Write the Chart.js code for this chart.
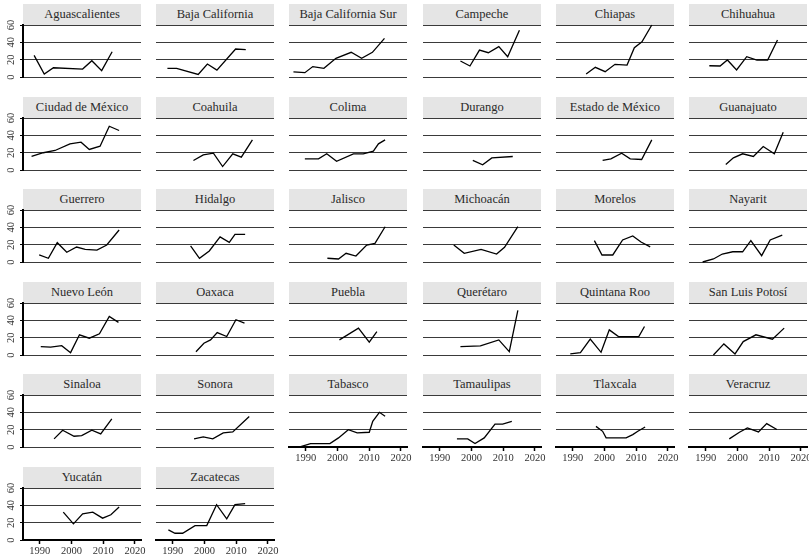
<!DOCTYPE html>
<html><head><meta charset="utf-8">
<script src="https://cdn.jsdelivr.net/npm/chart.js@4/dist/chart.umd.min.js"></script>
<style>
html,body{margin:0;padding:0;background:#fff;}
#wrap{position:relative;width:809px;height:558px;overflow:hidden;background:#fff;}
.strip{position:absolute;height:21px;line-height:21px;background:#e5e5e5;text-align:center;font-family:"Liberation Serif","DejaVu Serif","Times New Roman",serif;font-size:12.5px;color:#2a2a2a;white-space:nowrap;}
canvas{position:absolute;}
</style></head><body><div id="wrap"></div>
<script>
// ---- data ----
const states = ["Aguascalientes","Baja California","Baja California Sur","Campeche","Chiapas","Chihuahua",
"Ciudad de México","Coahuila","Colima","Durango","Estado de México","Guanajuato",
"Guerrero","Hidalgo","Jalisco","Michoacán","Morelos","Nayarit",
"Nuevo León","Oaxaca","Puebla","Querétaro","Quintana Roo","San Luis Potosí",
"Sinaloa","Sonora","Tabasco","Tamaulipas","Tlaxcala","Veracruz",
"Yucatán","Zacatecas"];

const years = [
 [1988.2,1991.4,1994.3,2003.5,2006.4,2009.5,2012.8],
 [1988.3,1991.2,1998.0,2000.9,2003.9,2009.8,2013.0],
 [1986.1,1989.7,1992.2,1995.7,1999.5,2004.3,2007.6,2011.0,2014.8],
 [1996.5,1999.5,2002.5,2005.3,2008.6,2011.4,2015.1],
 [1994.2,1997.1,2000.2,2003.3,2007.1,2009.4,2011.8,2014.9],
 [1991.1,1994.5,1996.8,1999.7,2002.9,2006.1,2009.5,2012.6],
 [1987.4,1991.1,1994.8,1999.5,2003.0,2005.6,2009.0,2011.9,2015.0],
 [1996.5,1999.6,2002.8,2005.7,2008.9,2011.6,2015.1],
 [1989.7,1994.0,1996.6,1999.7,2005.0,2008.1,2011.3,2012.9,2015.0],
 [2000.4,2003.5,2006.4,2013.0],
 [1999.4,2002.0,2005.4,2008.1,2011.7,2014.9],
 [1996.3,1998.7,2001.6,2005.0,2008.1,2011.6,2014.4],
 [1989.8,1992.7,1995.5,1998.5,2001.6,2004.3,2008.0,2011.1,2015.0],
 [1995.6,1998.4,2001.5,2004.9,2007.8,2009.6,2012.8],
 [1996.8,2000.3,2002.7,2005.8,2009.2,2011.8,2015.0],
 [1994.4,1997.7,2003.0,2007.9,2010.4,2014.6],
 [1996.8,1999.2,2002.6,2005.7,2008.9,2011.5,2014.4],
 [1989.0,1992.4,1995.2,1998.5,2001.6,2004.2,2007.6,2010.3,2014.1],
 [1990.3,1993.4,1996.9,1999.7,2002.5,2005.6,2008.8,2011.9,2014.8],
 [1997.3,1999.8,2001.9,2004.0,2007.0,2009.9,2012.6],
 [2000.6,2006.6,2010.0,2012.4],
 [1996.5,2002.8,2008.6,2011.9,2014.6],
 [1989.2,1992.4,1995.5,1998.9,2001.5,2004.4,2010.8,2012.6],
 [1992.4,1995.7,1999.2,2001.8,2005.8,2011.0,2014.7],
 [1994.5,1997.2,2000.8,2003.2,2006.4,2009.2,2012.7],
 [1996.7,1999.6,2002.6,2005.9,2008.9,2014.1],
 [1988.4,1991.5,1997.6,2000.3,2003.4,2006.2,2010.0,2011.1,2013.2,2015.0],
 [1995.4,1998.8,2001.1,2004.0,2007.4,2009.8,2012.7],
 [1997.3,1999.4,2000.5,2006.8,2008.9,2010.5,2012.8],
 [1997.4,2000.6,2003.1,2006.6,2009.2,2012.4],
 [1997.4,2000.6,2003.5,2006.7,2009.8,2012.4,2015.0],
 [1988.6,1990.7,1993.1,1997.0,2000.7,2003.8,2007.0,2009.6,2012.8]
];

const values = [
 [25,3.5,10.7,9.2,18.8,7.3,29.2],
 [10,10,3,15,8,32.3,31.5],
 [6,5,12,10,21.6,28.5,21.6,28.5,44.6],
 [18.5,12.7,31,28,35,23.4,54],
 [3.5,11.2,6.1,14.6,13.8,33.8,40.7,60],
 [13,12.7,19.6,8.1,23.4,19.6,19.6,42.7],
 [15.6,19.9,22.5,30.2,32.1,23.7,27.5,50.5,45.6],
 [11,17.5,19.4,4,18.7,14.8,34.8],
 [12.9,12.9,18.7,10.1,18.7,18.7,21.7,30.2,34.8],
 [11,6,14,15.6],
 [11,12.9,19.4,12.9,12.1,34.8],
 [6.3,14,18.7,15.6,27.1,18.7,43.6],
 [8.1,4.3,22.3,11.3,17.3,14.6,13.8,19.6,36.9],
 [18.5,4.3,12.7,29,22.7,31.9,31.9],
 [4.3,3.5,10,6.9,19.6,21.5,40.7],
 [19.6,10,14.6,9.2,16.9,40.7],
 [24.6,8.1,8.1,25.4,30,23,17.5],
 [0,3.5,9.2,11.8,11.8,24.6,7.3,25.4,31.1],
 [9.7,9,10.8,2.7,23.3,19.4,24.4,44.5,37.6],
 [3.8,13.6,17.4,25.9,21.3,40.7,36.9],
 [17.4,31,14.8,27.1],
 [9.7,10.5,17.4,3.8,51.5],
 [1.2,2.7,18.3,3.1,29,21.3,21.3,32.9],
 [0,12.8,1.2,15.5,23.3,18.2,31],
 [9.4,19.3,12.4,13.2,19.3,15.1,32.4],
 [9.4,11.7,9.4,16.3,17.4,35.3],
 [0.5,4,4,10.5,20,16.3,17,29.7,40,35.5],
 [9.4,9.4,4,10.5,26.5,26.5,29.5],
 [23.8,18.1,10.5,10.5,14.3,18.1,23.1],
 [9.4,17,22,17.4,27,20.2],
 [32.2,18.6,30.2,32.2,25.2,29.1,38],
 [11.6,7.8,7.8,16.6,16.6,40.7,24.4,40.7,41.9]
];

const xTicks = [1990, 2000, 2010, 2020];
const yTicks = [0, 20, 40, 60];

// ---- layout ----
const NCOL = 6;
const PADTOP = 8;
const wrap = document.getElementById('wrap');
const FONT = '"Liberation Serif", "DejaVu Serif", "Times New Roman", serif';
const n = states.length;

states.forEach((name, i) => {
  const c = i % NCOL, r = Math.floor(i / NCOL);
  const left = Math.round(23 + 133.2 * c);
  const top = Math.round(4 + 92.6 * r);
  const isLeft = c === 0;
  const isBottom = (i + NCOL) >= n;

  const st = document.createElement('div');
  st.className = 'strip';
  st.style.left = left + 'px';
  st.style.top = top + 'px';
  st.style.width = '118px';
  st.textContent = name;
  wrap.appendChild(st);

  const cv = document.createElement('canvas');
  const H = PADTOP + 52 + 22;
  cv.width = 157; cv.height = H;
  cv.style.left = (left - 23) + 'px';
  cv.style.top = (top + 21 - PADTOP) + 'px';
  cv.style.width = '157px'; cv.style.height = H + 'px';
  wrap.appendChild(cv);

  new Chart(cv, {
    type: 'line',
    data: { datasets: [{
      data: years[i].map((x, k) => ({ x: x, y: values[i][k] })),
      borderColor: '#000', borderWidth: 1.3, pointRadius: 0, tension: 0, fill: false, clip: false
    }]},
    options: {
      responsive: false, animation: false, events: [],
      layout: { padding: { top: PADTOP, right: 16, bottom: 0, left: 0 } },
      plugins: { legend: { display: false }, tooltip: { enabled: false } },
      scales: {
        x: {
          type: 'linear', min: 1984.7, max: 2021.9,
          afterBuildTicks: s => { s.ticks = xTicks.map(v => ({ value: v })); },
          afterFit: s => { s.height = 22; s.paddingLeft = 0; s.paddingRight = 0; },
          grid: { display: isBottom, drawOnChartArea: false, drawTicks: true, tickLength: 4, tickColor: '#000', tickWidth: 1.5 },
          border: { display: isBottom, color: '#000', width: 2 },
          ticks: { display: isBottom, padding: 1, maxRotation: 0, minRotation: 0, autoSkip: false,
                   font: { family: FONT, size: 10.5 }, color: '#333', callback: v => String(v) }
        },
        y: {
          min: 0, max: 60,
          afterBuildTicks: s => { s.ticks = yTicks.map(v => ({ value: v })); },
          afterFit: s => { s.width = 23; s.paddingTop = 0; s.paddingBottom = 0; },
          grid: { color: '#3a3a3a', lineWidth: 1, drawTicks: isLeft, tickLength: 3, tickColor: '#000', tickWidth: 1.2 },
          border: { display: isLeft, color: '#000', width: 2 },
          ticks: { display: isLeft, minRotation: 90, maxRotation: 90, crossAlign: 'center', padding: 4,
                   font: { family: FONT, size: 10.5 }, color: '#333', callback: v => String(v) }
        }
      }
    }
  });
});
</script></body></html>
